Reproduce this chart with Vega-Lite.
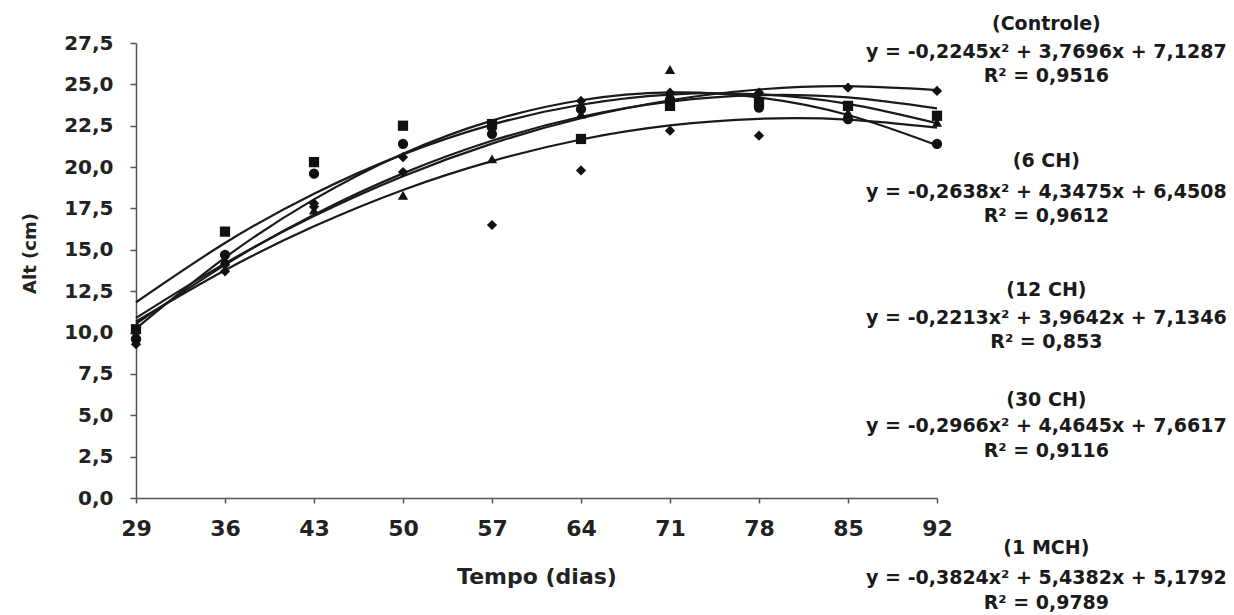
{
  "$schema": "https://vega.github.io/schema/vega-lite/v6.json",
  "width": 801,
  "height": 455,
  "autosize": {"type": "none"},
  "padding": {"left": 136, "top": 43, "right": 297, "bottom": 117},
  "background": "white",
  "config": {"view": {"stroke": null}},
  "datasets": {
    "curves": [
      {"series": "Controle", "day": 29, "alt": 10.67}, {"series": "Controle", "day": 36, "alt": 13.77}, {"series": "Controle", "day": 43, "alt": 16.42}, {"series": "Controle", "day": 50, "alt": 18.62}, {"series": "Controle", "day": 57, "alt": 20.36}, {"series": "Controle", "day": 64, "alt": 21.67}, {"series": "Controle", "day": 71, "alt": 22.52}, {"series": "Controle", "day": 78, "alt": 22.92}, {"series": "Controle", "day": 85, "alt": 22.87}, {"series": "Controle", "day": 92, "alt": 22.38},
      {"series": "6 CH", "day": 29, "alt": 10.53}, {"series": "6 CH", "day": 36, "alt": 14.09}, {"series": "6 CH", "day": 43, "alt": 17.12}, {"series": "6 CH", "day": 50, "alt": 19.62}, {"series": "6 CH", "day": 57, "alt": 21.59}, {"series": "6 CH", "day": 64, "alt": 23.04}, {"series": "6 CH", "day": 71, "alt": 23.96}, {"series": "6 CH", "day": 78, "alt": 24.35}, {"series": "6 CH", "day": 85, "alt": 24.21}, {"series": "6 CH", "day": 92, "alt": 23.55},
      {"series": "12 CH", "day": 29, "alt": 10.88}, {"series": "12 CH", "day": 36, "alt": 14.18}, {"series": "12 CH", "day": 43, "alt": 17.04}, {"series": "12 CH", "day": 50, "alt": 19.45}, {"series": "12 CH", "day": 57, "alt": 21.42}, {"series": "12 CH", "day": 64, "alt": 22.95}, {"series": "12 CH", "day": 71, "alt": 24.04}, {"series": "12 CH", "day": 78, "alt": 24.69}, {"series": "12 CH", "day": 85, "alt": 24.89}, {"series": "12 CH", "day": 92, "alt": 24.65},
      {"series": "30 CH", "day": 29, "alt": 11.83}, {"series": "30 CH", "day": 36, "alt": 15.41}, {"series": "30 CH", "day": 43, "alt": 18.39}, {"series": "30 CH", "day": 50, "alt": 20.77}, {"series": "30 CH", "day": 57, "alt": 22.57}, {"series": "30 CH", "day": 64, "alt": 23.77}, {"series": "30 CH", "day": 71, "alt": 24.38}, {"series": "30 CH", "day": 78, "alt": 24.40}, {"series": "30 CH", "day": 85, "alt": 23.82}, {"series": "30 CH", "day": 92, "alt": 22.65},
      {"series": "1 MCH", "day": 29, "alt": 10.24}, {"series": "1 MCH", "day": 36, "alt": 14.53}, {"series": "1 MCH", "day": 43, "alt": 18.05}, {"series": "1 MCH", "day": 50, "alt": 20.81}, {"series": "1 MCH", "day": 57, "alt": 22.81}, {"series": "1 MCH", "day": 64, "alt": 24.04}, {"series": "1 MCH", "day": 71, "alt": 24.51}, {"series": "1 MCH", "day": 78, "alt": 24.21}, {"series": "1 MCH", "day": 85, "alt": 23.15}, {"series": "1 MCH", "day": 92, "alt": 21.32}
    ],
    "points": [
      {"series": "Controle", "day": 29, "alt": 9.3}, {"series": "Controle", "day": 36, "alt": 13.7}, {"series": "Controle", "day": 43, "alt": 17.8}, {"series": "Controle", "day": 50, "alt": 20.6}, {"series": "Controle", "day": 57, "alt": 16.5}, {"series": "Controle", "day": 64, "alt": 19.8}, {"series": "Controle", "day": 71, "alt": 22.2}, {"series": "Controle", "day": 78, "alt": 21.9}, {"series": "Controle", "day": 85, "alt": 22.9}, {"series": "Controle", "day": 92, "alt": 21.4},
      {"series": "6 CH", "day": 29, "alt": 10.2}, {"series": "6 CH", "day": 36, "alt": 16.1}, {"series": "6 CH", "day": 43, "alt": 20.3}, {"series": "6 CH", "day": 50, "alt": 22.5}, {"series": "6 CH", "day": 57, "alt": 22.6}, {"series": "6 CH", "day": 64, "alt": 21.7}, {"series": "6 CH", "day": 71, "alt": 23.7}, {"series": "6 CH", "day": 78, "alt": 23.9}, {"series": "6 CH", "day": 85, "alt": 23.7}, {"series": "6 CH", "day": 92, "alt": 23.1},
      {"series": "12 CH", "day": 29, "alt": 9.9}, {"series": "12 CH", "day": 36, "alt": 14.4}, {"series": "12 CH", "day": 43, "alt": 17.4}, {"series": "12 CH", "day": 50, "alt": 18.3}, {"series": "12 CH", "day": 57, "alt": 20.5}, {"series": "12 CH", "day": 64, "alt": 23.2}, {"series": "12 CH", "day": 71, "alt": 25.9}, {"series": "12 CH", "day": 78, "alt": 24.1}, {"series": "12 CH", "day": 85, "alt": 23.3}, {"series": "12 CH", "day": 92, "alt": 22.7},
      {"series": "30 CH", "day": 29, "alt": 9.6}, {"series": "30 CH", "day": 36, "alt": 14.7}, {"series": "30 CH", "day": 43, "alt": 19.6}, {"series": "30 CH", "day": 50, "alt": 21.4}, {"series": "30 CH", "day": 57, "alt": 22.0}, {"series": "30 CH", "day": 64, "alt": 23.5}, {"series": "30 CH", "day": 71, "alt": 24.1}, {"series": "30 CH", "day": 78, "alt": 23.6}, {"series": "30 CH", "day": 85, "alt": 22.9}, {"series": "30 CH", "day": 92, "alt": 21.4},
      {"series": "1 MCH", "day": 29, "alt": 9.7}, {"series": "1 MCH", "day": 36, "alt": 14.1}, {"series": "1 MCH", "day": 43, "alt": 17.6}, {"series": "1 MCH", "day": 50, "alt": 19.7}, {"series": "1 MCH", "day": 57, "alt": 22.3}, {"series": "1 MCH", "day": 64, "alt": 24.0}, {"series": "1 MCH", "day": 71, "alt": 24.5}, {"series": "1 MCH", "day": 78, "alt": 24.5}, {"series": "1 MCH", "day": 85, "alt": 24.8}, {"series": "1 MCH", "day": 92, "alt": 24.6}
    ],
    "notes": [
      {"label": "(Controle)", "day": 100.6, "alt": 28.64},
      {"label": "y = -0,2245x² + 3,7696x + 7,1287", "day": 100.6, "alt": 26.95},
      {"label": "R² = 0,9516", "day": 100.6, "alt": 25.5},
      {"label": "(6 CH)", "day": 100.6, "alt": 20.36},
      {"label": "y = -0,2638x² + 4,3475x + 6,4508", "day": 100.6, "alt": 18.49},
      {"label": "R² = 0,9612", "day": 100.6, "alt": 17.04},
      {"label": "(12 CH)", "day": 100.6, "alt": 12.57},
      {"label": "y = -0,2213x² + 3,9642x + 7,1346", "day": 100.6, "alt": 10.88},
      {"label": "R² = 0,853", "day": 100.6, "alt": 9.43},
      {"label": "(30 CH)", "day": 100.6, "alt": 5.92},
      {"label": "y = -0,2966x² + 4,4645x + 7,6617", "day": 100.6, "alt": 4.35},
      {"label": "R² = 0,9116", "day": 100.6, "alt": 2.84},
      {"label": "(1 MCH)", "day": 100.6, "alt": -3.02},
      {"label": "y = -0,3824x² + 5,4382x + 5,1792", "day": 100.6, "alt": -4.83},
      {"label": "R² = 0,9789", "day": 100.6, "alt": -6.34}
    ]
  },
  "encoding": {
    "x": {
      "field": "day", "type": "quantitative",
      "scale": {"domain": [29, 92], "nice": false, "zero": false},
      "axis": {
        "title": "Tempo (dias)",
        "values": [29, 36, 43, 50, 57, 64, 71, 78, 85, 92],
        "grid": false,
        "domainColor": "#555555", "domainWidth": 1.5,
        "tickColor": "#555555", "tickWidth": 1.5, "tickSize": 5,
        "labelFont": "DejaVu Sans", "labelFontWeight": "bold", "labelFontSize": 22, "labelColor": "#222222",
        "labelPadding": 15, "labelFlush": false,
        "titleFont": "DejaVu Sans", "titleFontWeight": "bold", "titleFontSize": 22, "titleColor": "#222222",
        "titlePadding": 27
      }
    },
    "y": {
      "field": "alt", "type": "quantitative",
      "scale": {"domain": [0, 27.5], "nice": false},
      "axis": {
        "title": "Alt (cm)",
        "values": [0, 2.5, 5, 7.5, 10, 12.5, 15, 17.5, 20, 22.5, 25, 27.5],
        "labelExpr": "replace(format(datum.value, '.1f'), '.', ',')",
        "grid": false,
        "domainColor": "#555555", "domainWidth": 1.5,
        "tickColor": "#555555", "tickWidth": 1.5, "tickSize": 6,
        "labelFont": "DejaVu Sans", "labelFontWeight": "bold", "labelFontSize": 20, "labelColor": "#222222",
        "labelPadding": 17,
        "titleFont": "DejaVu Sans", "titleFontWeight": "bold", "titleFontSize": 18, "titleColor": "#222222",
        "titleX": -106, "titleY": 210, "titleBaseline": "middle", "titleAngle": -90
      }
    }
  },
  "layer": [
    {
      "data": {"name": "curves"},
      "mark": {"type": "line", "interpolate": "natural", "color": "#1a1a1a", "strokeWidth": 2.2},
      "encoding": {"detail": {"field": "series"}}
    },
    {
      "data": {"name": "points"},
      "mark": {"type": "point", "filled": true, "opacity": 1, "color": "#111111", "size": 105},
      "encoding": {
        "shape": {
          "field": "series", "type": "nominal",
          "scale": {"domain": ["Controle", "6 CH", "12 CH", "30 CH", "1 MCH"], "range": ["diamond", "square", "triangle-up", "circle", "diamond"]},
          "legend": null
        }
      }
    },
    {
      "data": {"name": "notes"},
      "mark": {"type": "text", "font": "DejaVu Sans", "fontWeight": "bold", "fontSize": 19, "color": "#1a1a1a", "align": "center", "baseline": "middle", "clip": false},
      "encoding": {"text": {"field": "label"}}
    }
  ]
}
